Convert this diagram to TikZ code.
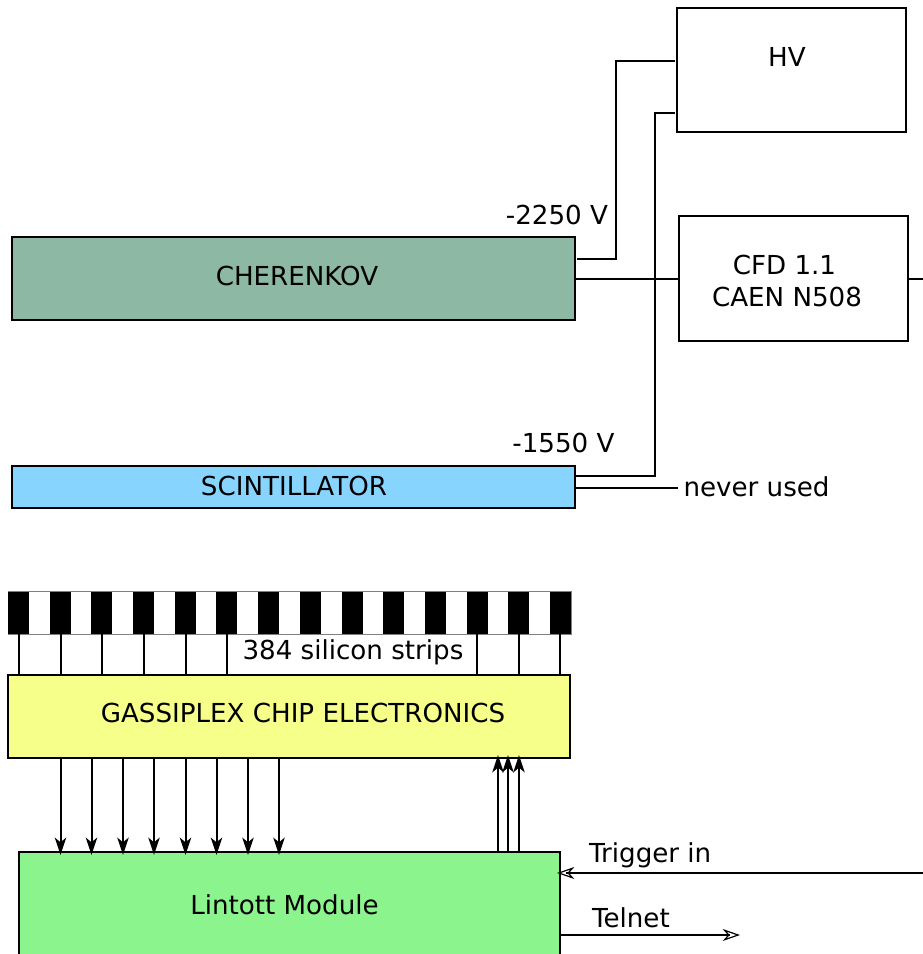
\documentclass[tikz,border=0pt]{standalone}
\usepackage{fontspec}
\setmainfont{DejaVu Sans}
\usetikzlibrary{arrows.meta}
\definecolor{cherfill}{HTML}{8DB8A4}
\definecolor{scifill}{HTML}{87D5FF}
\definecolor{gassfill}{HTML}{F5FF8A}
\definecolor{lintfill}{HTML}{8CF48C}
\tikzset{
  box/.style={draw=black,line width=1.5pt,inner sep=0,outer sep=0},
  lbl/.style={inner sep=0,outer sep=0,font=\fontsize{19.6}{23}\selectfont},
  wire/.style={draw=black,line width=1.5pt},
  solidarrow/.style={wire,-{Stealth[length=13pt,width=8.5pt,inset=3.5pt]}},
  openarrow/.style={wire,-{Stealth[length=13pt,width=9pt,inset=4pt,fill=white,line width=0.9pt]}},
}
\begin{document}
\begin{tikzpicture}[x=0.75pt,y=-0.75pt]
\useasboundingbox (0,0) rectangle (923,954);
\clip (0,0) rectangle (923,954);
% boxes
\node[box,minimum width=171.75pt,minimum height=93pt] (hv) at (791.5,70) {};
\node[lbl] (hvt) at (787,56.5) {HV};
\node[box,minimum width=171.75pt,minimum height=93.75pt] (cfd) at (793.5,278.5) {};
\node[lbl] (cfd1) at (784.5,265) {CFD 1.1};
\node[lbl] (cfd2) at (787,297) {CAEN N508};
\node[box,fill=cherfill,minimum width=422.25pt,minimum height=62.25pt] (cher) at (293.5,278.5) {};
\node[lbl] (chert) at (297,276) {CHERENKOV};
\node[box,fill=scifill,minimum width=422.25pt,minimum height=31.5pt] (sci) at (293.5,486.5) {};
\node[lbl] (scit) at (294,486) {SCINTILLATOR};
\node[lbl] (v1) at (557,214.5) {-2250 V};
\node[lbl] (v2) at (563.5,442.5) {-1550 V};
\node[lbl,anchor=west] (never) at (683.5,486.5) {never used};
% connectors upper
\coordinate (ch1) at (577,258.5);
\coordinate (hv1) at (675,60.5);
\coordinate (hv2) at (675,112.5);
\coordinate (s1) at (575,476);
\coordinate (s2) at (575,488);
\coordinate (nu) at (678,488);
\coordinate (cfdo) at (923,279);
\draw[wire] (ch1) -- (616,258.5) -- (616,60.5) -- (hv1);
\draw[wire] (s1) -- (655,476) -- (655,112.5) -- (hv2);
\draw[wire] (s2) -- (nu);
\draw[wire] (cher.east |- 0,279) -- (cfd.west |- 0,279);
\draw[wire] (cfd.east |- 0,279) -- (cfdo);
% strips
\draw[draw=gray,line width=0.75pt,fill=white] (8,591.5) rectangle (571,634);
\foreach \i in {0,...,13} {\fill[black] ({8+\i*41.69},591.5) rectangle ({8+\i*41.69+21},634);}
\foreach \x in {19,60.5,102,144,185.5,227,477,518.5,560} {\draw[wire] (\x,634) -- (\x,675);}
\node[lbl] (sil) at (353,652) {384 silicon strips};
\node[box,fill=gassfill,minimum width=421.5pt,minimum height=62.25pt] (gass) at (289,716) {};
\node[lbl] (gasst) at (303,713) {GASSIPLEX CHIP ELECTRONICS};
\node[box,fill=lintfill,minimum width=405.75pt,minimum height=105pt] (lint) at (289.5,922) {};
\node[lbl] (lintt) at (284.5,904.5) {Lintott Module};
\foreach \x in {60.5,91.5,123,154,185.5,216.5,248,279} {\draw[solidarrow] (\x,758) -- (\x,855);}
\foreach \x in {498,508,519} {\draw[solidarrow] (\x,852) -- (\x,755);}
% trigger, telnet
\coordinate (trg) at (923,873);
\coordinate (trgend) at (557,873);
\coordinate (tel) at (740,935);
\draw[openarrow] (trg) -- (trgend);
\draw[wire] (trg) -- (566,873);
\draw[openarrow] (560,935) -- (tel);
\draw[wire] (560,935) -- (730,935);
\node[lbl,anchor=west] (trgt) at (589,855) {Trigger in};
\node[lbl,anchor=west] (telt) at (592,917.5) {Telnet};
\end{tikzpicture}
\end{document}
